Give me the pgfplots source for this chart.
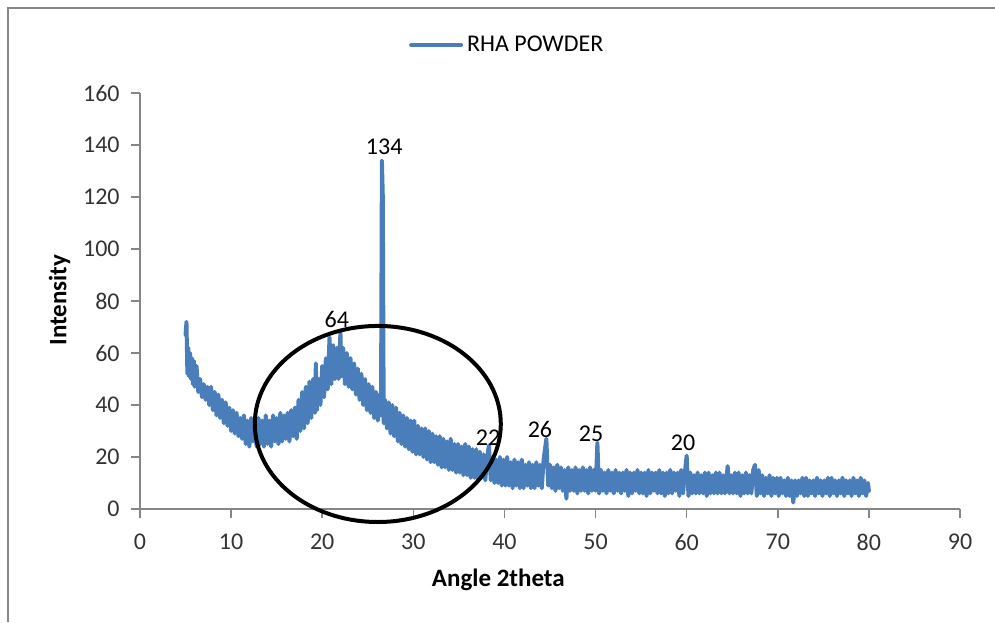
\documentclass[border=0pt]{standalone}
\usepackage{fontspec}
\setmainfont{Carlito}
\usepackage{pgfplots}
\pgfplotsset{compat=1.18}
\definecolor{rhablue}{HTML}{4A7EBB}
\definecolor{axgray}{HTML}{868686}

\pgfplotstableread{
x y
5.0 67
5.1 72
5.2 52
5.3 62
5.4 51
5.5 60
5.6 50
5.7 58
5.8 48
5.9 57
6.0 47
6.2 55
6.4 45
6.6 50
6.8 43
7.0 48
7.2 42
7.4 47
7.6 40
7.8 47
8.0 38
8.2 45
8.4 36
8.6 44
8.8 35
9.0 42
9.2 33
9.4 41
9.6 32
9.8 39
10.0 30
10.2 38
10.4 29
10.6 37
10.8 28
11.0 35
11.2 27
11.4 36
11.6 25
11.8 34
12.0 24
12.2 35
12.4 26
12.6 33
12.8 24
13.0 35
13.2 25
13.4 34
13.6 24
13.8 36
14.0 25
14.2 34
14.4 24
14.6 36
14.8 26
15.0 35
15.2 25
15.4 37
15.6 26
15.8 36
16.0 27
16.2 37
16.4 26
16.6 38
16.8 28
17.0 39
17.2 27
17.4 42
17.6 30
17.8 45
18.0 31
18.2 47
18.4 33
18.6 49
18.8 35
19.0 50
19.2 37
19.3 56
19.4 38
19.6 50
19.8 40
20.0 55
20.2 43
20.4 58
20.6 46
20.8 66
21.0 48
21.2 63
21.4 50
21.6 62
21.8 50
22.0 68
22.1 51
22.3 62
22.5 48
22.7 60
22.9 47
23.1 58
23.3 46
23.5 56
23.7 44
23.9 54
24.1 42
24.3 52
24.5 40
24.7 50
24.9 38
25.1 48
25.3 37
25.5 47
25.7 35
25.9 45
26.1 34
26.3 44
26.45 36
26.55 134
26.65 120
26.75 33
26.9 42
27.1 31
27.3 41
27.5 29
27.7 40
27.9 28
28.1 39
28.3 26
28.5 37
28.7 25
28.9 36
29.1 24
29.3 35
29.5 23
29.7 34
29.9 22
30.1 34
30.3 21
30.5 32
30.7 21
30.9 31
31.1 20
31.3 31
31.5 19
31.7 30
31.9 18
32.1 29
32.3 18
32.5 28
32.7 17
32.9 28
33.1 16
33.3 27
33.5 16
33.7 26
33.9 15
34.1 27
34.3 15
34.5 25
34.7 14
34.9 25
35.1 14
35.3 24
35.5 13
35.7 25
35.9 13
36.1 24
36.3 12
36.5 23
36.7 12
36.9 23
37.1 11
37.3 22
37.5 12
37.7 21
37.9 11
38.1 20
38.3 24.5
38.5 11
38.7 20
38.9 10
39.1 19
39.3 10
39.5 20
39.7 9
39.9 19
40.1 9
40.3 20
40.5 9
40.7 18
40.9 8
41.1 19
41.3 9
41.5 18
41.7 8
41.9 19
42.1 8
42.3 17
42.5 9
42.7 18
42.9 8
43.1 17
43.3 8
43.5 18
43.7 9
43.9 17
44.1 8
44.3 19
44.6 27
44.8 9
45.0 17
45.2 8
45.4 16
45.6 7
45.8 17
46.0 8
46.2 16
46.4 7
46.6 15
46.8 4
47.0 16
47.2 7
47.4 15
47.6 7
47.8 16
48.0 6
48.2 15
48.4 7
48.6 16
48.8 7
49.0 15
49.2 6
49.4 16
49.6 7
49.8 15
50.0 7
50.2 25.5
50.4 6
50.6 15
50.8 7
51.0 14
51.2 6
51.4 15
51.6 7
51.8 14
52.0 6
52.2 15
52.4 7
52.6 14
52.8 6
53.0 14
53.2 7
53.4 15
53.6 5
53.8 14
54.0 6
54.2 14
54.4 7
54.6 15
54.8 6
55.0 14
55.2 6
55.4 14
55.6 5
55.8 15
56.0 6
56.2 14
56.4 7
56.6 14
56.8 6
57.0 15
57.2 6
57.4 14
57.6 5
57.8 14
58.0 6
58.2 15
58.4 6
58.6 14
58.8 7
59.0 14
59.2 5
59.4 15
59.6 6
59.8 14
60.0 20.5
60.2 5
60.4 14
60.6 6
60.8 13
61.0 6
61.2 14
61.4 6
61.6 13
61.8 6
62.0 14
62.2 5
62.4 14
62.6 6
62.8 13
63.0 6
63.2 14
63.4 6
63.6 14
63.8 6
64.0 13
64.2 6
64.5 16.5
64.7 6
64.9 13
65.1 6
65.3 14
65.5 6
65.7 14
65.9 5
66.1 13
66.3 6
66.5 14
66.7 6
66.9 13
67.1 6
67.3 15
67.5 17
67.7 5
67.9 15
68.1 6
68.3 13
68.5 5
68.7 12
68.9 6
69.1 13
69.3 5
69.5 12
69.7 6
69.9 12
70.1 5
70.3 12
70.5 6
70.7 11
70.9 5
71.1 12
71.3 5
71.5 11
71.7 2.5
71.9 11
72.1 5
72.3 11
72.5 6
72.7 12
72.9 5
73.1 12
73.3 5
73.5 11
73.7 6
73.9 11
74.1 5
74.3 12
74.5 6
74.7 11
74.9 5
75.1 11
75.3 6
75.5 12
75.7 5
75.9 12
76.1 6
76.3 11
76.5 5
76.7 11
76.9 6
77.1 12
77.3 5
77.5 11
77.7 6
77.9 11
78.1 5
78.3 12
78.5 6
78.7 11
78.9 5
79.1 12
79.3 6
79.5 11
79.7 5
79.9 10
80.0 7
}\rhadata

\begin{document}
\begin{tikzpicture}
\fontsize{12}{14}\selectfont
% whole picture: 995 x 622 px at 0.5pt per px
\path[use as bounding box] (0pt,0pt) rectangle (497.5pt,311pt);
\draw[axgray, line width=1pt] (4pt,0pt) -- (4pt,307pt) -- (497.5pt,307pt);

\begin{axis}[
    at={(70pt,56.5pt)}, anchor=south west,
    scale only axis,
    width=410pt, height=208pt,
    xmin=0, xmax=90, ymin=0, ymax=160,
    xtick={0,10,...,90}, ytick={0,20,...,160},
    axis x line*=bottom, axis y line*=left,
    axis line style={axgray, line width=0.8pt},
    tick style={axgray, line width=0.8pt},
    tick align=outside, major tick length=4.5pt,
    minor tick num=0,
    ticklabel style={font=\fontsize{12}{14}\selectfont, text=black!80},
    xticklabel style={yshift=-4pt},
    yticklabel style={xshift=-1.5pt},
    /pgf/number format/assume math mode=true,
    xlabel={\bfseries Angle 2theta},
    ylabel={\bfseries Intensity},
    label style={font=\fontsize{12.5}{14}\selectfont},
    xlabel style={at={(axis description cs:0.437,-0.171)}, anchor=center},
    ylabel style={at={(axis description cs:-0.098,0.502)}, anchor=center, rotate=0},
    clip=false,
    legend style={at={(axis description cs:0.449,1.115)}, anchor=center,
        draw=none, fill=none, font=\fontsize{12}{14}\selectfont,
        inner sep=0pt},
    legend image code/.code={\draw[#1, line width=2pt] (0pt,0pt) -- (25pt,0pt);},
]
\addplot[color=rhablue, line width=2pt, line join=round, line cap=round] table[x=x, y=y] {\rhadata};
\addlegendentry{RHA POWDER}

\draw[black, line width=2pt] (axis cs:26.1,32.7) ellipse [x radius=13.5, y radius=37.7];

\node[font=\fontsize{12}{14}\selectfont] at (axis cs:26.8,139.2) {134};
\node[font=\fontsize{12}{14}\selectfont] at (axis cs:21.6,73) {64};
\node[font=\fontsize{12}{14}\selectfont] at (axis cs:38.2,27.3) {22};
\node[font=\fontsize{12}{14}\selectfont] at (axis cs:43.9,30.4) {26};
\node[font=\fontsize{12}{14}\selectfont] at (axis cs:49.5,28.8) {25};
\node[font=\fontsize{12}{14}\selectfont] at (axis cs:59.6,25.4) {20};
\end{axis}
\end{tikzpicture}
\end{document}
